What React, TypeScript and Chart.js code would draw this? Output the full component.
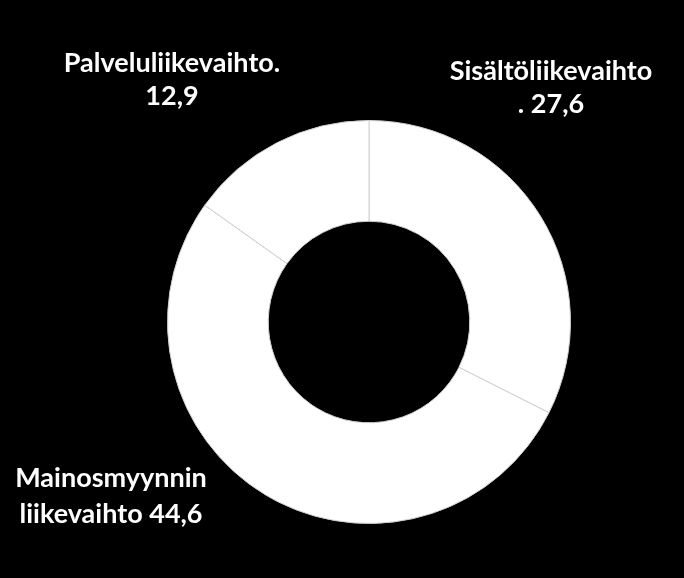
import { useEffect, useRef } from "react";
import { Chart, ArcElement, DoughnutController } from "chart.js";

Chart.register(ArcElement, DoughnutController);

const categories = ["Sisältöliikevaihto", "Mainosmyynnin liikevaihto", "Palveluliikevaihto"];
const values = [27.6, 44.6, 12.9];
const labelLines = [
    ["Sisältöliikevaihto", ". 27,6"],
    ["Mainosmyynnin", "liikevaihto 44,6"],
    ["Palveluliikevaihto.", "12,9"],
];

// where each label block sits (centre x, first baseline y), in canvas px
const labelAnchors = [
    { x: 551, y: 80, gap: 33 },
    { x: 111, y: 487, gap: 36 },
    { x: 172, y: 72, gap: 33 },
];

const labelPlugin = {
    id: "sliceLabels",
    afterDraw(chart: Chart) {
        const ctx = chart.ctx;
        ctx.save();
        ctx.fillStyle = "#ffffff";
        ctx.font = "bold 27px Lato";
        ctx.textAlign = "center";
        ctx.textBaseline = "alphabetic";
        labelLines.forEach((lines, i) => {
            const a = labelAnchors[i];
            lines.forEach((line, j) => {
                ctx.fillText(line, a.x, a.y + j * a.gap);
            });
        });
        ctx.restore();
    },
};

export default function App() {
    const canvasRef = useRef<HTMLCanvasElement | null>(null);

    useEffect(() => {
        if (!canvasRef.current) {
            return;
        }

        const chart = new Chart(canvasRef.current, {
            type: "doughnut",
            data: {
                labels: categories,
                datasets: [
                    {
                        data: values,
                        backgroundColor: "#ffffff",
                        borderColor: "#d0d0d0",
                        borderWidth: 1,
                    },
                ],
            },
            options: {
                responsive: true,
                maintainAspectRatio: false,
                animation: false,
                cutout: "50%",
                layout: {
                    padding: { left: 167, top: 120, right: 113, bottom: 54 },
                },
                plugins: {
                    legend: { display: false },
                    tooltip: { enabled: false },
                },
            },
            plugins: [labelPlugin],
        });

        return () => chart.destroy();
    }, []);

    return (
        <div style={{ position: "fixed", left: 0, top: 0, width: 684, height: 578, background: "#000" }}>
            <canvas ref={canvasRef} />
        </div>
    );
}
